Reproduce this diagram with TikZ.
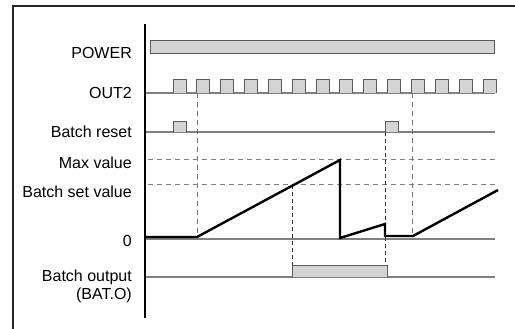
\documentclass[tikz,border=0pt]{standalone}
\usepackage{fontspec}
\setmainfont{Liberation Sans}

\begin{document}
\begin{tikzpicture}[x=1pt,y=-1pt,
    lbl/.style={anchor=base east,inner sep=0pt,font=\fontsize{16}{18}\selectfont},
    track/.style={draw=black!50,line width=1.2pt},
    level/.style={draw=black!50,line width=1pt,dash pattern=on 5pt off 4pt},
    guide/.style={draw=black!55,line width=1pt,dash pattern=on 5pt off 4pt},
    guidedark/.style={draw=black!80,line width=0.9pt,dash pattern=on 4pt off 3pt},
    gate/.style={fill=black!17,draw=black!65,line width=1pt},
    signal/.style={draw=black,line width=2.4pt}]
    \clip (0,0) rectangle (515,329);
    % Definitions
    \coordinate (lPower)  at (132,59);
    \coordinate (lOut)    at (132,99);
    \coordinate (lReset)  at (132,138);
    \coordinate (lMax)    at (132,168);
    \coordinate (lSet)    at (132,197);
    \coordinate (lZero)   at (132,247);
    \coordinate (lBatch)  at (132,281);
    \coordinate (lBatO)   at (132,299);
    % Frame and axis
    \draw[draw=black!85,line width=2pt] (13,6) rectangle (540,350);
    \draw[black,line width=2pt] (145,24) -- (145,318);
    % Labels
    \node(P)  at (lPower) [lbl] {POWER};
    \node(O)  at (lOut)   [lbl] {OUT2};
    \node(R)  at (lReset) [lbl] {Batch reset};
    \node(M)  at (lMax)   [lbl] {Max value};
    \node(S)  at (lSet)   [lbl] {Batch set value};
    \node(Z)  at (lZero)  [lbl] {0};
    \node(B)  at (lBatch) [lbl] {Batch output};
    \node(BO) at (lBatO)  [lbl] {(BAT.O)};
    % Levels
    \draw[level] (148,160) -- (495,160);
    \draw[level] (148,185) -- (495,185);
    % Tracks
    \draw[track] (146,93)  -- (495,93);
    \draw[track] (146,132) -- (495,132);
    \draw[track] (146,239) -- (495,239);
    \draw[track] (146,277) -- (495,277);
    % Guides
    \draw[guide] (197,93) -- (197,237);
    \draw[guide] (412,93) -- (412,237);
    \draw[guidedark] (385,132) -- (385,265);
    \draw[guidedark] (292,185) -- (292,265);
    % POWER
    \draw[gate] (150,54) rectangle (494,41);
    % OUT2 pulses
    \foreach \i in {0,...,13}
        \draw[gate] ({173+23.85*\i},93) -- ++(0,-13) -- ++(13,0) -- ++(0,13);
    % Batch reset
    \draw[gate] (173,132) -- ++(0,-10) -- ++(13,0) -- ++(0,10);
    \draw[gate] (385,132) -- ++(0,-10) -- ++(13,0) -- ++(0,10);
    % Batch output
    \draw[gate] (292,277) -- ++(0,-12) -- ++(95,0) -- ++(0,12);
    % Count value
    \draw[signal] (146,237) -- (197,237) -- (340,160) -- (340,238)
        -- (385,224) -- (385,236) -- (413,236) -- (498,190);
\end{tikzpicture}
\end{document}
